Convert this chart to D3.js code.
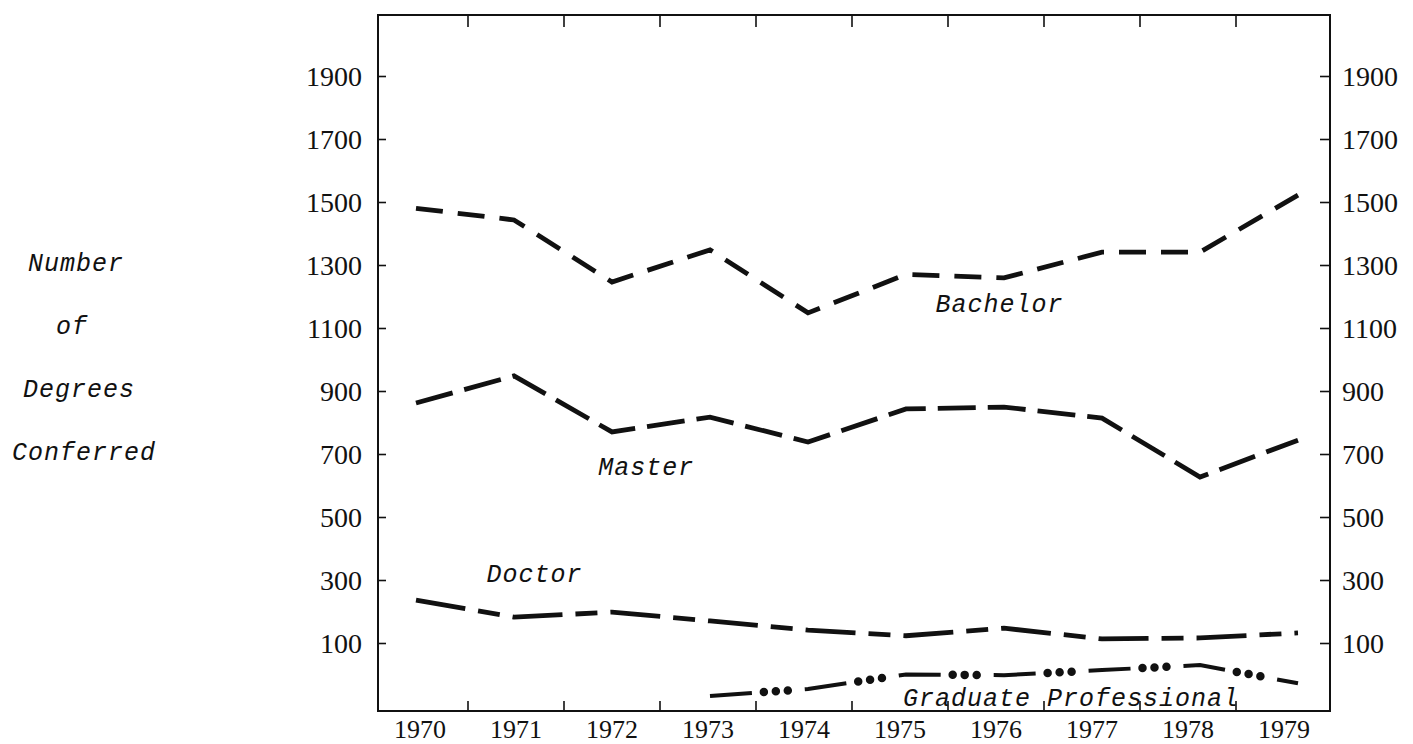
<!DOCTYPE html>
<html lang="en">
<head>
<meta charset="UTF-8">
<title>Degrees Conferred 1970-1979</title>
<script src="https://d3js.org/d3.v7.min.js"></script>
<style>
  body { margin: 0; background: #fff; }
  .tick-label { font-family: "Liberation Serif", serif; font-size: 28px; fill: #111; }
  .xlab { font-size: 26px; }
  .note { font-family: "Liberation Mono", monospace; font-style: italic; font-size: 25px; letter-spacing: 1px; fill: #111; }
</style>
</head>
<body>
<div id="chart"></div>
<script>
// values
var years = [1970, 1971, 1972, 1973, 1974, 1975, 1976, 1977, 1978, 1979];
var bachelor = [1480, 1443, 1246, 1348, 1148, 1270, 1259, 1341, 1341, 1522];
var master   = [862, 948, 770, 817, 738, 843, 849, 814, 627, 744];
var doctor   = [236, 182, 198, 170, 141, 123, 147, 113, 116, 132];
var gradYears = [1973, 1974, 1975, 1976, 1977, 1978, 1979];
var gradProf  = [-68, -46, 0, -2, 14, 30, -28];
var yTicks = [100, 300, 500, 700, 900, 1100, 1300, 1500, 1700, 1900];

var W = 1413, H = 744;
var frame = {left: 378, right: 1330, top: 15, bottom: 711};

var svg = d3.select("#chart").append("svg")
    .attr("width", W).attr("height", H);

var y = d3.scaleLinear().domain([100, 1900]).range([643, 76]);
// year bands for the axis labels, points for the drawn lines
var xBand = d3.scaleBand().domain(years).range([372, 1332]);
var xPt = d3.scalePoint().domain(years).range([416, 1298]);

// frame
svg.append("rect")
    .attr("x", frame.left).attr("y", frame.top)
    .attr("width", frame.right - frame.left).attr("height", frame.bottom - frame.top)
    .attr("fill", "none").attr("stroke", "#111").attr("stroke-width", 2);

// y ticks and labels, both sides
var yl = svg.append("g").attr("transform", "translate(" + frame.left + ",0)")
    .call(d3.axisRight(y).tickValues(yTicks).tickSize(8).tickFormat(""));
var yr = svg.append("g").attr("transform", "translate(" + frame.right + ",0)")
    .call(d3.axisLeft(y).tickValues(yTicks).tickSize(10).tickFormat(""));
[yl, yr].forEach(function(g) {
  g.select(".domain").remove();
  g.selectAll("line").attr("stroke", "#111").attr("stroke-width", 1.6);
});

svg.selectAll(".ylab-l").data(yTicks).enter().append("text")
    .attr("class", "tick-label")
    .attr("x", 362).attr("y", function(d) { return y(d); })
    .attr("dy", "0.34em").attr("text-anchor", "end")
    .text(function(d) { return d; });
svg.selectAll(".ylab-r").data(yTicks).enter().append("text")
    .attr("class", "tick-label")
    .attr("x", 1342).attr("y", function(d) { return y(d); })
    .attr("dy", "0.34em").attr("text-anchor", "start")
    .text(function(d) { return d; });

// x ticks sit on the boundaries between years
var bounds = years.slice(1).map(function(d) { return xBand(d); });
svg.selectAll(".xt-top").data(bounds).enter().append("line")
    .attr("x1", function(d) { return d; }).attr("x2", function(d) { return d; })
    .attr("y1", frame.top).attr("y2", frame.top + 12)
    .attr("stroke", "#111").attr("stroke-width", 1.6);
svg.selectAll(".xt-bot").data(bounds).enter().append("line")
    .attr("x1", function(d) { return d; }).attr("x2", function(d) { return d; })
    .attr("y1", frame.bottom).attr("y2", frame.bottom - 10)
    .attr("stroke", "#111").attr("stroke-width", 1.6);

svg.selectAll(".xlab").data(years).enter().append("text")
    .attr("class", "tick-label xlab")
    .attr("x", function(d) { return xBand(d) + xBand.bandwidth() / 2; })
    .attr("y", 738).attr("text-anchor", "middle")
    .text(function(d) { return d; });

// series
var line = d3.line()
    .x(function(d) { return xPt(d[0]); })
    .y(function(d) { return y(d[1]); });

function pairs(xs, vs) { return xs.map(function(d, i) { return [d, vs[i]]; }); }

svg.append("path").datum(pairs(years, bachelor)).attr("d", line)
    .attr("fill", "none").attr("stroke", "#111").attr("stroke-width", 4.8)
    .attr("stroke-dasharray", "27 15");

svg.append("path").datum(pairs(years, master)).attr("d", line)
    .attr("fill", "none").attr("stroke", "#111").attr("stroke-width", 4.8)
    .attr("stroke-dasharray", "38 12");

svg.append("path").datum(pairs(years, doctor)).attr("d", line)
    .attr("fill", "none").attr("stroke", "#111").attr("stroke-width", 4.8)
    .attr("stroke-dasharray", "50 13 22 13");

// graduate professional: a dash followed by three dots
var gp = pairs(gradYears, gradProf);
svg.append("path").datum(gp).attr("d", line)
    .attr("fill", "none").attr("stroke", "#111").attr("stroke-width", 4)
    .attr("stroke-dasharray", "42 53");
svg.append("path").datum(gp).attr("d", line)
    .attr("fill", "none").attr("stroke", "#111").attr("stroke-width", 8.5)
    .attr("stroke-linecap", "round")
    .attr("stroke-dasharray", "0 12 0 12 0 71")
    .attr("stroke-dashoffset", 41);

// series labels
var xl = d3.scaleLinear().domain([1970, 1979]).range([416, 1298]);
var notes = [
  {text: "Bachelor", yr: 1975.3, v: 1179},
  {text: "Master", yr: 1971.86, v: 662},
  {text: "Doctor", yr: 1970.72, v: 322},
  {text: "Graduate Professional", yr: 1974.97, v: -71}
];
svg.selectAll(".note-s").data(notes).enter().append("text")
    .attr("class", "note")
    .attr("x", function(d) { return xl(d.yr); })
    .attr("y", function(d) { return y(d.v); })
    .attr("dy", "0.35em")
    .text(function(d) { return d.text; });

// y title, one word per row level
var title = [
  {text: "Number", cx: 76, v: 1310},
  {text: "of", cx: 72, v: 1110},
  {text: "Degrees", cx: 79, v: 910},
  {text: "Conferred", cx: 84, v: 710}
];
svg.selectAll(".title").data(title).enter().append("text")
    .attr("class", "note")
    .attr("x", function(d) { return d.cx; })
    .attr("y", function(d) { return y(d.v); })
    .attr("dy", "0.35em").attr("text-anchor", "middle")
    .text(function(d) { return d.text; });
</script>
</body>
</html>
